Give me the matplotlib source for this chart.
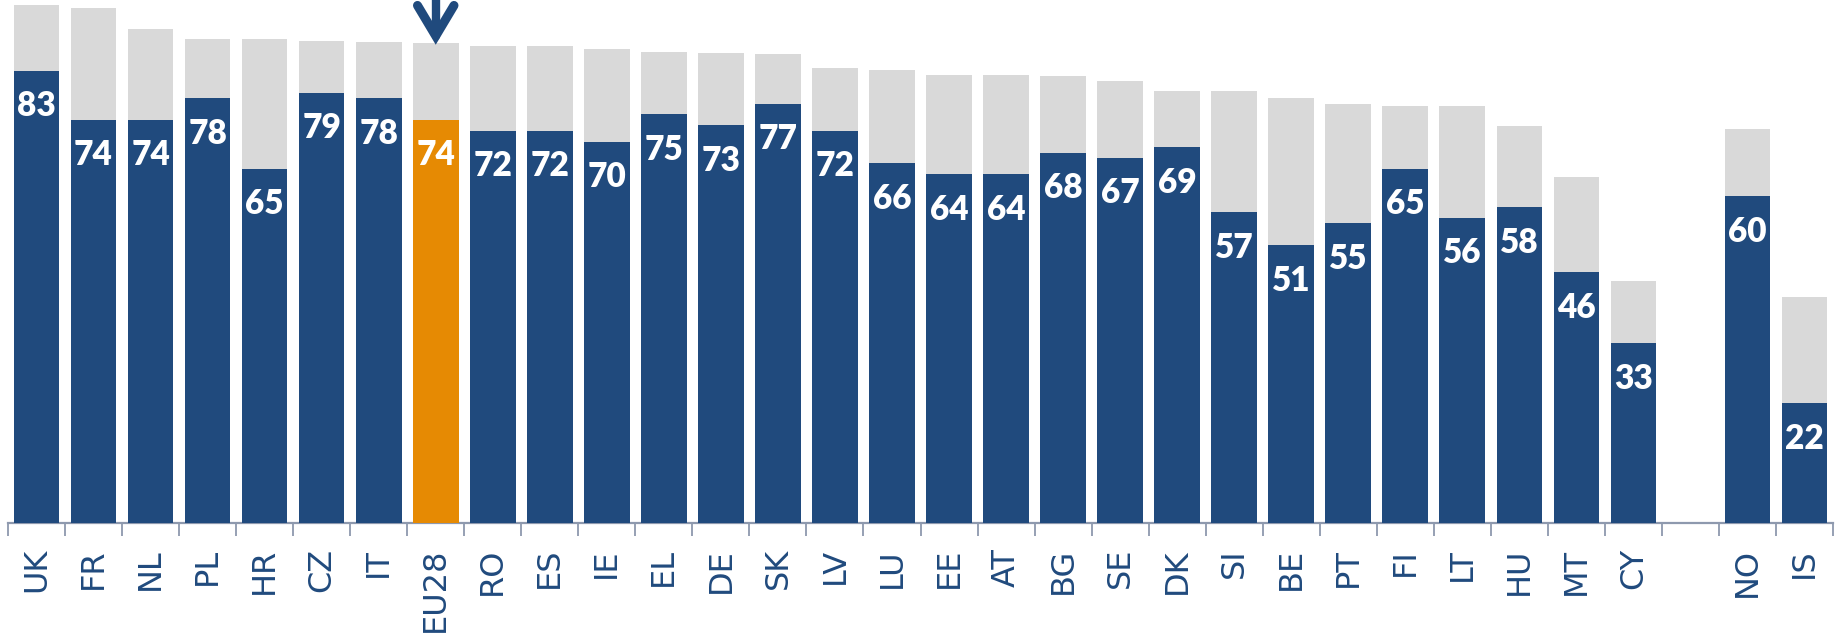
import numpy as np
import matplotlib.pyplot as plt

countries = ["UK", "FR", "NL", "PL", "HR", "CZ", "IT", "EU28", "RO", "ES", "IE", "EL",
             "DE", "SK", "LV", "LU", "EE", "AT", "BG", "SE", "DK", "SI", "BE", "PT",
             "FI", "LT", "HU", "MT", "CY", "", "NO", "IS"]

values = [83, 74, 74, 78, 65, 79, 78, 74, 72, 72, 70, 75,
          73, 77, 72, 66, 64, 64, 68, 67, 69, 57, 51, 55,
          65, 56, 58, 46, 33, None, 60, 22]

totals = [95.1, 94.5, 90.7, 88.8, 88.8, 88.5, 88.2, 88.1, 87.6, 87.5, 87.0, 86.4,
          86.2, 86.0, 83.5, 83.2, 82.2, 82.2, 82.1, 81.2, 79.3, 79.3, 78.0, 77.0,
          76.6, 76.5, 72.8, 63.6, 44.5, None, 72.3, 41.5]

highlight = "EU28"

blue = "#204A7D"
orange = "#E68A03"
grey = "#D9D9D9"
axis_col = "#8E99AE"

fig = plt.figure(figsize=(18.39, 6.34), dpi=100)
ax = fig.add_axes([8 / 1839, 111 / 634, 1825 / 1839, 523 / 634])

x = np.arange(len(countries))
for i, c in enumerate(countries):
    if values[i] is None:
        continue
    col = orange if c == highlight else blue
    ax.bar(i, totals[i] - values[i], bottom=values[i], width=0.8, color=grey, zorder=2)
    ax.bar(i, values[i], width=0.8, color=col, zorder=3)
    ax.annotate(str(values[i]), xy=(i, values[i]), xytext=(0, -35.5 * 72 / 100),
                textcoords="offset points", ha="center", va="center",
                color="white", fontsize=24, fontweight="heavy", family="Lato", zorder=4)

# arrow pointing at the EU average
k = countries.index(highlight)
tip = totals[k] + 1.3
ax.plot([k, k], [tip, 96.5], color=blue, lw=6, solid_capstyle="round", clip_on=False)
ax.plot([k - 0.32, k, k + 0.32], [tip + 5.6, tip, tip + 5.6], color=blue, lw=6.5,
        solid_capstyle="round", solid_joinstyle="miter", clip_on=False)

ax.set_xlim(-0.5, len(countries) - 0.5)
ax.set_ylim(0, 96)

ax.set_xticks(x)
ax.set_xticklabels(countries, rotation=90, color=blue, fontsize=23, family="DejaVu Sans")
ax.tick_params(axis="x", which="major", length=0, pad=18)
ax.set_xticks(np.arange(-0.5, len(countries)), minor=True)
ax.tick_params(axis="x", which="minor", length=9, width=1.3, color=axis_col)
ax.set_yticks([])

for s in ["top", "right", "left"]:
    ax.spines[s].set_visible(False)
ax.spines["bottom"].set_color(axis_col)
ax.spines["bottom"].set_linewidth(1.6)

fig.savefig("out.png", dpi=100)
